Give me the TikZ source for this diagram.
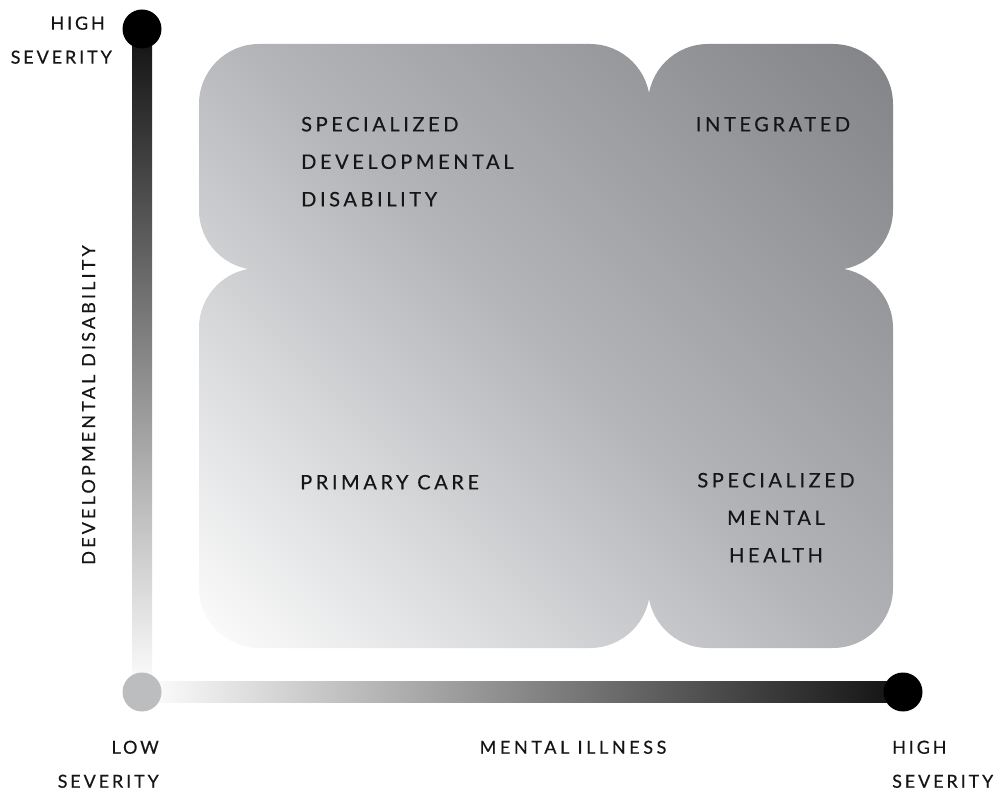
\documentclass[tikz,border=0pt]{standalone}
\usepackage{fontspec}
\usetikzlibrary{calc}
\newfontfamily\qfont{Lato}[LetterSpace=18, FakeBold=0.35]
\newfontfamily\afont{Lato}[LetterSpace=20, FakeBold=0.35]
\newfontfamily\sfont{Lato}[LetterSpace=16, FakeBold=0.35]
\newfontfamily\rfont{Lato}[LetterSpace=17.5, FakeBold=0.35]
\definecolor{cLL}{HTML}{FDFDFD}
\definecolor{cQ}{HTML}{D9DADC}
\definecolor{cMid}{HTML}{B4B5B8}
\definecolor{cUR}{HTML}{828386}
\definecolor{barDark}{HTML}{111111}
\definecolor{barMid}{HTML}{B0B1B3}
\definecolor{lowDot}{HTML}{BCBDBF}
\definecolor{txt}{HTML}{151515}
\pgfdeclareverticalshading{quadshade}{100bp}{color(0bp)=(cLL); color(14.6bp)=(cLL); color(32bp)=(cQ); color(50bp)=(cMid); color(85.4bp)=(cUR); color(100bp)=(cUR)}
\tikzset{
  qlabel/.style={font=\qfont\fontsize{20}{37.5}\selectfont, text=txt, inner sep=0pt},
  alabel/.style={font=\afont\fontsize{18}{34}\selectfont, text=txt, inner sep=0pt},
  slabel/.style={font=\sfont\fontsize{18}{34}\selectfont, text=txt, inner sep=0pt},
  rlabel/.style={font=\rfont\fontsize{18}{34}\selectfont, text=txt, inner sep=0pt},
  dot/.style={circle, inner sep=0pt, minimum size=39pt}
}
\begin{document}
\begin{tikzpicture}[x=1pt,y=-1pt]
\useasboundingbox (0,0) rectangle (997,791);
% quadrants (union of four rounded rectangles, one shading)
\shade[shading=quadshade, shading angle=-45, rounded corners=60pt]
  (199,648) rectangle (650,268)
  (199,270) rectangle (650,44)
  (648,648) rectangle (893,268)
  (648,270) rectangle (893,44)
  [sharp corners] (590,328) rectangle (708,210);
% axes
\coordinate (ytop) at (142,29);
\coordinate (orig) at (142,692);
\coordinate (xend) at (903,692);
\shade[top color=barDark, middle color=barMid, bottom color=white]
  ($(ytop)+(-10,0)$) rectangle ($(orig)+(10,0)$);
\shade[left color=white, middle color=barMid, right color=barDark]
  ($(orig)+(0,-10.5)$) rectangle ($(xend)+(0,10.5)$);
\node[dot, fill=black] (topdot) at (ytop) {};
\node[dot, fill=lowDot] (lowdot) at (orig) {};
\node[dot, fill=black] (rightdot) at (xend) {};
% quadrant labels
\node[qlabel, align=left, anchor=north west] (sdd) at (301,116.7) {SPECIALIZED\\DEVELOPMENTAL\\DISABILITY};
\node[qlabel, anchor=north] (integ) at (773,116.7) {INTEGRATED};
\node[qlabel, anchor=north west] (prim) at (300,474.7) {PRIMARY CARE};
\node[qlabel, align=center, anchor=north] (smh) at (776,472.7) {SPECIALIZED\\MENTAL\\HEALTH};
% axis labels
\node[slabel, align=right, anchor=north east] (hs1) at (112,16.4) {HIGH\hspace*{7pt}\\SEVERITY};
\node[slabel, align=right, anchor=north east] (ls) at (159,740.5) {LOW\\SEVERITY};
\node[slabel, align=left, anchor=north west] (hs2) at (892,740.5) {HIGH\\SEVERITY};
\node[alabel, anchor=north] (mi) at (573,740.5) {MENTAL ILLNESS};
\node[rlabel, rotate=90, anchor=base] (dd) at (95,405) {DEVELOPMENTAL DISABILITY};
\end{tikzpicture}
\end{document}
